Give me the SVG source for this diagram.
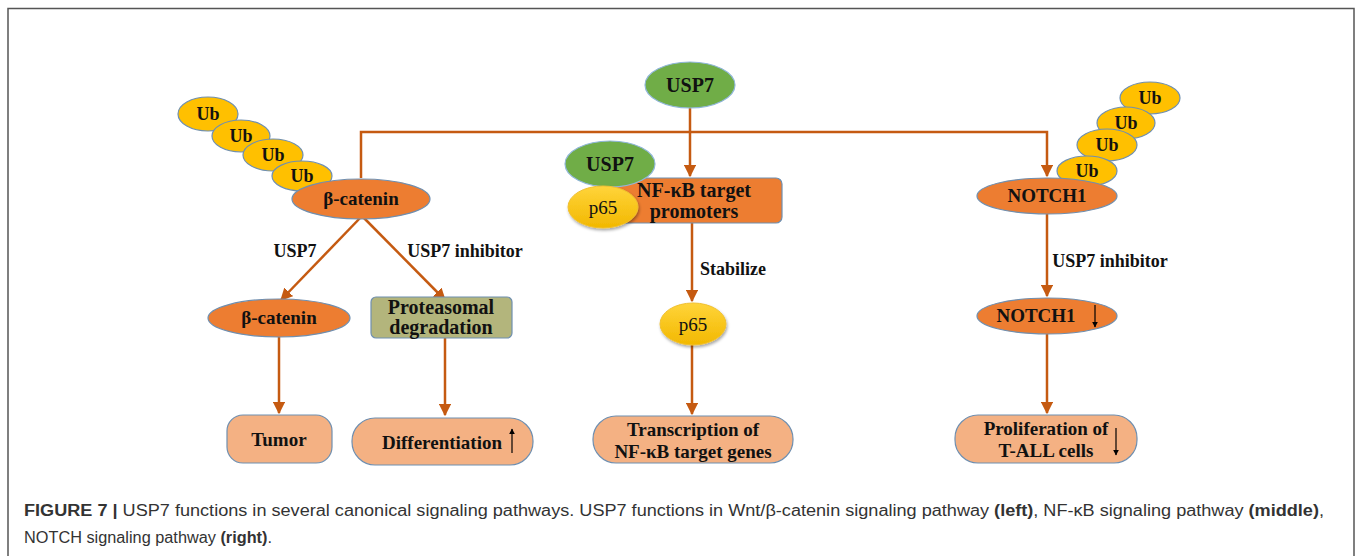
<svg xmlns="http://www.w3.org/2000/svg" width="1358" height="556" viewBox="0 0 1358 556">
<style>
.t{font-family:"Liberation Serif","Times New Roman",serif;font-weight:bold;fill:#111;text-anchor:middle}
.n{font-family:"Liberation Serif","Times New Roman",serif;font-weight:normal;fill:#111;text-anchor:middle}
.ub{fill:#FFC000;stroke:#6F8FB0;stroke-width:1.2}
.or{fill:#ED7D31;stroke:#6F8FB0;stroke-width:1.2}
.gr{fill:#70AD47;stroke:#8FB6D8;stroke-width:1.2}
.pk{fill:#F4B183;stroke:#6F8FB0;stroke-width:1.2}
.c{stroke:#C55A11;stroke-width:2.5;fill:none}
.ca{font-family:"Liberation Sans",Arial,sans-serif;font-size:16px;fill:#333}
.bl{stroke:#000;stroke-width:1.2;fill:none}
</style>
<defs>
<marker id="ah" viewBox="0 0 10 10" refX="9" refY="5" markerWidth="5" markerHeight="5" orient="auto" markerUnits="strokeWidth">
<path d="M0,0 L10,5 L0,10 z" fill="#C55A11"/>
</marker>
<marker id="bk" viewBox="0 0 10 10" refX="9" refY="5" markerWidth="5" markerHeight="5" orient="auto" markerUnits="strokeWidth">
<path d="M0,0 L10,5 L0,10 z" fill="#000"/>
</marker>
<linearGradient id="yg" x1="0" y1="0" x2="0" y2="1">
<stop offset="0" stop-color="#FFD43A"/>
<stop offset="1" stop-color="#F2B800"/>
</linearGradient>
<filter id="sh" x="-20%" y="-20%" width="150%" height="160%">
<feDropShadow dx="1" dy="2" stdDeviation="1.5" flood-color="#000" flood-opacity="0.35"/>
</filter>
</defs>
<rect x="8" y="8.5" width="1346" height="560" fill="none" stroke="#555" stroke-width="1.5"/>

<g id="connectors">
<path class="c" d="M690,108 V176" marker-end="url(#ah)"/>
<path class="c" d="M361,178 V132 H1047 V176" marker-end="url(#ah)"/>
<path class="c" d="M362,216 L281,300" marker-end="url(#ah)"/>
<path class="c" d="M362,216 L445,300" marker-end="url(#ah)"/>
<path class="c" d="M279,337 V413" marker-end="url(#ah)"/>
<path class="c" d="M445,338 V415" marker-end="url(#ah)"/>
<path class="c" d="M692,223 V301" marker-end="url(#ah)"/>
<path class="c" d="M692,345 V414" marker-end="url(#ah)"/>
<path class="c" d="M1047,214 V296" marker-end="url(#ah)"/>
<path class="c" d="M1047,334 V413" marker-end="url(#ah)"/>
<text class="t" x="295" y="257" font-size="18">USP7</text>
<text class="t" x="465" y="257" font-size="18">USP7 inhibitor</text>
<text class="t" x="733" y="275" font-size="18">Stabilize</text>
<text class="t" x="1110" y="267" font-size="18">USP7 inhibitor</text>
</g>

<g id="usp7-top">
<ellipse class="gr" cx="690" cy="85" rx="45" ry="23"/>
<text class="t" x="690" y="92" font-size="20">USP7</text>
</g>

<g id="ub-left">
<ellipse class="ub" cx="208" cy="114" rx="30" ry="17"/>
<text class="t" x="208" y="120" font-size="18">Ub</text>
<ellipse class="ub" cx="241" cy="136" rx="29" ry="16"/>
<text class="t" x="241" y="142" font-size="18">Ub</text>
<ellipse class="ub" cx="273" cy="155" rx="30" ry="16"/>
<text class="t" x="273" y="161" font-size="18">Ub</text>
<ellipse class="ub" cx="302" cy="176" rx="30" ry="15"/>
<text class="t" x="302" y="182" font-size="18">Ub</text>
</g>

<g id="bcatenin-top">
<ellipse class="or" cx="361" cy="199" rx="69" ry="20"/>
<text class="t" x="361" y="205" font-size="19">β-catenin</text>
</g>

<g id="nfkb-promoters">
<rect class="or" x="606" y="178" width="176" height="45" rx="6"/>
<text class="t" x="694" y="197" font-size="20">NF-κB target</text>
<text class="t" x="694" y="218" font-size="20">promoters</text>
</g>

<g id="usp7-mid">
<ellipse class="gr" cx="610" cy="164" rx="45" ry="23"/>
<text class="t" x="610" y="171" font-size="20">USP7</text>
</g>

<g id="p65-top">
<ellipse cx="603" cy="207" rx="35" ry="21" fill="url(#yg)" stroke="#F0C030" stroke-width="1" filter="url(#sh)"/>
<text class="n" x="603" y="214" font-size="19">p65</text>
</g>

<g id="ub-right">
<ellipse class="ub" cx="1150" cy="98" rx="30" ry="16"/>
<text class="t" x="1150" y="104" font-size="18">Ub</text>
<ellipse class="ub" cx="1126" cy="123" rx="29" ry="16"/>
<text class="t" x="1126" y="129" font-size="18">Ub</text>
<ellipse class="ub" cx="1107" cy="145" rx="30" ry="16"/>
<text class="t" x="1107" y="151" font-size="18">Ub</text>
<ellipse class="ub" cx="1087" cy="171" rx="30" ry="15"/>
<text class="t" x="1087" y="177" font-size="18">Ub</text>
</g>

<g id="notch1-top">
<ellipse class="or" cx="1047" cy="196" rx="70" ry="18"/>
<text class="t" x="1047" y="202" font-size="19">NOTCH1</text>
</g>

<g id="bcatenin-low">
<ellipse class="or" cx="279" cy="318" rx="71" ry="19"/>
<text class="t" x="279" y="324" font-size="19">β-catenin</text>
</g>

<g id="proteasomal">
<rect x="371" y="297" width="141" height="41" rx="5" fill="#B3B57C" stroke="#6F8FB0" stroke-width="1.2"/>
<text class="t" x="441" y="314" font-size="20">Proteasomal</text>
<text class="t" x="441" y="334" font-size="20">degradation</text>
</g>

<g id="p65-low">
<ellipse cx="693" cy="324" rx="33" ry="21" fill="url(#yg)" stroke="#F0C030" stroke-width="1" filter="url(#sh)"/>
<text class="n" x="693" y="331" font-size="19">p65</text>
</g>

<g id="notch1-low">
<ellipse class="or" cx="1047" cy="316" rx="70" ry="18"/>
<text class="t" x="1036" y="322" font-size="19">NOTCH1</text>
<path class="bl" d="M1095,305 V327" marker-end="url(#bk)"/>
</g>

<g id="tumor">
<rect class="pk" x="227" y="415" width="105" height="48" rx="16"/>
<text class="t" x="279" y="446" font-size="19">Tumor</text>
</g>

<g id="differentiation">
<rect class="pk" x="352" y="418" width="181" height="47" rx="23"/>
<text class="t" x="442" y="449" font-size="19">Differentiation</text>
<path class="bl" d="M512,453 V429" marker-end="url(#bk)"/>
</g>

<g id="transcription">
<rect class="pk" x="593" y="416" width="200" height="47" rx="23"/>
<text class="t" x="693" y="436" font-size="19">Transcription of</text>
<text class="t" x="693" y="458" font-size="19">NF-κB target genes</text>
</g>

<g id="proliferation">
<rect class="pk" x="955" y="415" width="182" height="48" rx="23"/>
<text class="t" x="1046" y="435" font-size="19">Proliferation of</text>
<text class="t" x="1046" y="457" font-size="19">T-ALL cells</text>
<path class="bl" d="M1116,428 V455" marker-end="url(#bk)"/>
</g>

<g id="caption">
<text class="ca" x="24" y="516" textLength="1300" lengthAdjust="spacingAndGlyphs"><tspan font-weight="bold">FIGURE 7 |</tspan> USP7 functions in several canonical signaling pathways. USP7 functions in Wnt/β-catenin signaling pathway <tspan font-weight="bold">(left)</tspan>, NF-κB signaling pathway <tspan font-weight="bold">(middle)</tspan>,</text>
<text class="ca" x="24" y="543" textLength="248" lengthAdjust="spacingAndGlyphs">NOTCH signaling pathway <tspan font-weight="bold">(right)</tspan>.</text>
</g>
</svg>
